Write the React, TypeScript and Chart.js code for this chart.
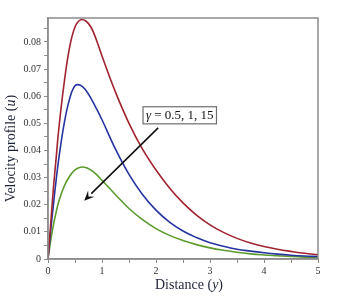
import React, { useEffect, useRef } from "react";
import { Chart, registerables } from "chart.js";

Chart.register(...registerables);

const distance = [0, 0.05, 0.1, 0.15, 0.2, 0.3, 0.4, 0.5, 0.6, 0.7, 0.8, 0.9, 1.0, 1.25, 1.5, 1.75, 2.0, 2.25, 2.5, 2.75, 3.0, 3.25, 3.5, 3.75, 4.0, 4.25, 4.5, 4.75, 5.0];
const gammaLabels = ["γ = 0.5", "γ = 1", "γ = 15"];
const redValues = [0, 0.013, 0.026, 0.037, 0.048, 0.065, 0.078, 0.0855, 0.0881, 0.0877, 0.0853, 0.0805, 0.0748, 0.0615, 0.05, 0.0405, 0.0328, 0.0262, 0.0207, 0.0162, 0.0126, 0.0098, 0.0076, 0.0059, 0.0046, 0.0036, 0.0028, 0.0021, 0.0016];
const blueValues = [0, 0.0105, 0.02, 0.029, 0.037, 0.05, 0.059, 0.0638, 0.064, 0.0622, 0.059, 0.0553, 0.0513, 0.0405, 0.0312, 0.0238, 0.018, 0.0136, 0.0103, 0.0079, 0.006, 0.0047, 0.0036, 0.0029, 0.0023, 0.0018, 0.0014, 0.0011, 0.0009];
const greenValues = [0, 0.0068, 0.0125, 0.0172, 0.0212, 0.0268, 0.0305, 0.0328, 0.0338, 0.0337, 0.0327, 0.0311, 0.029, 0.0237, 0.0186, 0.0145, 0.0112, 0.0087, 0.0068, 0.0053, 0.0041, 0.0032, 0.0025, 0.0019, 0.0015, 0.0012, 0.0009, 0.0007, 0.0006];
const xTicks = [0, 1, 2, 3, 4, 5];
const yTicks = [0, 0.01, 0.02, 0.03, 0.04, 0.05, 0.06, 0.07, 0.08];
const annotationText = ["γ", " = 0.5, 1, 15"];
const annotationBox = [1.76, 3.12, 0.0561, 0.0498]; // xmin, xmax, ymax, ymin (data units)
const arrowFrom = [2.04, 0.0483];
const arrowTo = [0.67, 0.0215];

const serif = "'Liberation Serif', 'DejaVu Serif', serif";

const overlay = {
  id: "overlay",
  afterDraw(chart: any) {
    const { ctx, chartArea: a, scales } = chart;
    const xs = scales.x;
    const ys = scales.y;
    ctx.save();
    // frame
    ctx.strokeStyle = "#8c8c8c";
    ctx.lineWidth = 1.5;
    ctx.strokeRect(a.left, a.top, a.right - a.left, a.bottom - a.top);

    // axis titles
    const drawParts = (parts: [string, boolean][], cx: number, cy: number, rot: number) => {
      ctx.save();
      ctx.translate(cx, cy);
      ctx.rotate(rot);
      ctx.fillStyle = "#1e2438";
      ctx.textBaseline = "middle";
      ctx.textAlign = "left";
      let total = 0;
      for (const [t, it] of parts) {
        ctx.font = `${it ? "italic " : ""}14px ${serif}`;
        total += ctx.measureText(t).width;
      }
      let x = -total / 2;
      for (const [t, it] of parts) {
        ctx.font = `${it ? "italic " : ""}14px ${serif}`;
        ctx.fillText(t, x, 0);
        x += ctx.measureText(t).width;
      }
      ctx.restore();
    };
    drawParts([["Velocity profile (", false], ["u", true], [")", false]], 11, (a.top + a.bottom) / 2 + 10, -Math.PI / 2);
    drawParts([["Distance (", false], ["y", true], [")", false]], (a.left + a.right) / 2 + 6, 285, 0);

    // arrow
    const x1 = xs.getPixelForValue(arrowFrom[0]);
    const y1 = ys.getPixelForValue(arrowFrom[1]);
    const x2 = xs.getPixelForValue(arrowTo[0]);
    const y2 = ys.getPixelForValue(arrowTo[1]);
    const ang = Math.atan2(y2 - y1, x2 - x1);
    const hl = 10;
    const hw = 4.5;
    const bx = x2 - hl * Math.cos(ang);
    const by = y2 - hl * Math.sin(ang);
    ctx.strokeStyle = "#111";
    ctx.fillStyle = "#111";
    ctx.lineWidth = 1.6;
    ctx.beginPath();
    ctx.moveTo(x1, y1);
    ctx.lineTo(bx, by);
    ctx.stroke();
    ctx.beginPath();
    ctx.moveTo(x2, y2);
    ctx.lineTo(bx + hw * Math.sin(ang), by - hw * Math.cos(ang));
    ctx.lineTo(x2 - 0.6 * hl * Math.cos(ang), y2 - 0.6 * hl * Math.sin(ang));
    ctx.lineTo(bx - hw * Math.sin(ang), by + hw * Math.cos(ang));
    ctx.closePath();
    ctx.fill();

    // annotation box
    const l = xs.getPixelForValue(annotationBox[0]);
    const r = xs.getPixelForValue(annotationBox[1]);
    const t = ys.getPixelForValue(annotationBox[2]);
    const b = ys.getPixelForValue(annotationBox[3]);
    ctx.fillStyle = "#fff";
    ctx.fillRect(l, t, r - l, b - t);
    ctx.strokeStyle = "#6e6e6e";
    ctx.lineWidth = 1.2;
    ctx.strokeRect(l, t, r - l, b - t);
    ctx.fillStyle = "#111";
    ctx.textBaseline = "middle";
    ctx.textAlign = "left";
    ctx.font = `italic 13px ${serif}`;
    const w0 = ctx.measureText(annotationText[0]).width;
    ctx.font = `13px ${serif}`;
    const w1 = ctx.measureText(annotationText[1]).width;
    let tx = (l + r) / 2 - (w0 + w1) / 2;
    const ty = (t + b) / 2 + 0.5;
    ctx.font = `italic 13px ${serif}`;
    ctx.fillText(annotationText[0], tx, ty);
    tx += w0;
    ctx.font = `13px ${serif}`;
    ctx.fillText(annotationText[1], tx, ty);
    ctx.restore();
  },
};

export default function App() {
  const ref = useRef<HTMLCanvasElement | null>(null);
  useEffect(() => {
    document.body.style.margin = "0";
    const canvas = ref.current;
    if (!canvas) return;
    const mk = (label: string, data: number[], color: string) => ({
      label,
      data: distance.map((d, i) => ({ x: d, y: data[i] })),
      borderColor: color,
      backgroundColor: color,
      borderWidth: 1.6,
      pointRadius: 0,
      tension: 0.4,
      fill: false,
    });
    const chart = new Chart(canvas, {
      type: "line",
      data: {
        datasets: [
          mk(gammaLabels[0], redValues, "#a0232f"),
          mk(gammaLabels[1], blueValues, "#2634a0"),
          mk(gammaLabels[2], greenValues, "#5b9a2c"),
        ],
      },
      options: {
        responsive: false,
        animation: false,
        layout: { padding: { top: 18, right: 20, left: 0, bottom: 0 } },
        plugins: { legend: { display: false }, tooltip: { enabled: false } },
        scales: {
          x: {
            type: "linear",
            min: 0,
            max: 5,
            border: { display: true, color: "#8c8c8c", width: 1.5 },
            grid: { drawOnChartArea: false, drawTicks: true, tickLength: 4, color: "#8c8c8c" },
            ticks: {
              stepSize: 0.5,
              includeBounds: false,
              autoSkip: false,
              maxRotation: 0,
              padding: 2,
              color: "#333",
              font: { family: serif, size: 10 },
              callback: (v: any) => (xTicks.includes(Number(v)) ? String(v) : ""),
            },
            afterFit: (s: any) => {
              s.height = 38;
            },
          },
          y: {
            type: "linear",
            min: 0,
            max: 0.0888,
            border: { display: true, color: "#8c8c8c", width: 1.5 },
            grid: { drawOnChartArea: false, drawTicks: true, tickLength: 4, color: "#8c8c8c" },
            ticks: {
              stepSize: 0.005,
              includeBounds: false,
              autoSkip: false,
              padding: 3,
              color: "#333",
              font: { family: serif, size: 10 },
              callback: (v: any) => {
                const n = Number(v);
                const hit = yTicks.find((t) => Math.abs(t - n) < 1e-9);
                return hit === undefined ? "" : hit === 0 ? "0" : hit.toFixed(2);
              },
            },
            afterFit: (s: any) => {
              s.width = 48;
            },
          },
        },
      },
      plugins: [overlay],
    });
    return () => chart.destroy();
  }, []);
  return <canvas ref={ref} width={338} height={297} style={{ display: "block" }} />;
}
